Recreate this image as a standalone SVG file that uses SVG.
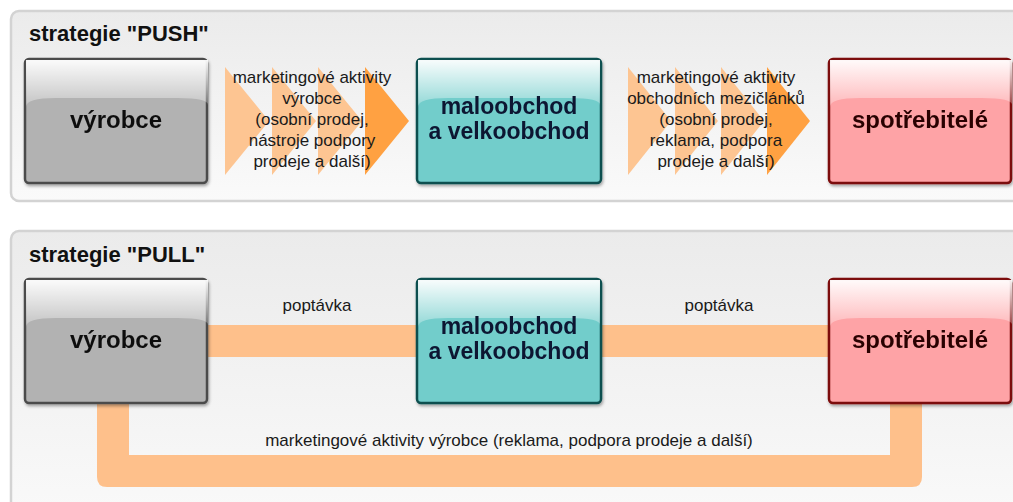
<svg xmlns="http://www.w3.org/2000/svg" width="1013" height="502" viewBox="0 0 1013 502">
<defs>
<linearGradient id="panelG" x1="0" y1="0" x2="0" y2="1">
<stop offset="0" stop-color="#ebebeb"/>
<stop offset="1" stop-color="#fafafa"/>
</linearGradient>
<linearGradient id="gloss" x1="0" y1="0" x2="0" y2="1">
<stop offset="0" stop-color="#ffffff" stop-opacity="0.95"/>
<stop offset="1" stop-color="#ffffff" stop-opacity="0.22"/>
</linearGradient>
<filter id="sh" x="-10%" y="-10%" width="125%" height="130%">
<feDropShadow dx="1" dy="2" stdDeviation="1.6" flood-color="#000" flood-opacity="0.35"/>
</filter>
<path id="gl" d="M0,0 H182 V45 Q182,38 152,38 H30 Q0,38 0,47 Z"/>
</defs>
<style>
.panel{fill:url(#panelG);stroke:#d3d3d3;stroke-width:2.5}
.title{font-family:"Liberation Sans",Arial,sans-serif;font-weight:bold;font-size:22px;fill:#111}
.box{stroke-width:2.5}
.gray{fill:#b2b2b2;stroke:#4b4b4b}
.teal{fill:#72cdcb;stroke:#0e5050}
.red{fill:#fea3a6;stroke:#7c0808}
.bt{font-family:"Liberation Sans",Arial,sans-serif;font-weight:bold;font-size:24px;text-anchor:middle}
.bt2{font-size:23px}
.lbl{font-family:"Liberation Sans",Arial,sans-serif;font-size:17px;text-anchor:middle;fill:#1a1a1a}
.lt{fill:#fdc592}
.dk{fill:#ffa142}
.band{fill:#fec08b}
</style>

<rect class="panel" x="11" y="11" width="1030" height="190" rx="8"/>
<rect class="panel" x="11" y="231" width="1030" height="300" rx="8"/>
<text class="title" x="29" y="41">strategie "PUSH"</text>
<text class="title" x="29" y="262">strategie "PULL"</text>

<g id="connectors">
<polygon class="lt" points="225,67 269,121 225,175"/>
<polygon class="lt" points="272,67 316,121 272,175"/>
<polygon class="lt" points="318,67 362,121 318,175"/>
<polygon class="dk" points="365,67 409,121 365,175"/>
<polygon class="lt" points="628,67 671,121 628,175"/>
<polygon class="lt" points="675,67 718,121 675,175"/>
<polygon class="lt" points="721,67 764,121 721,175"/>
<polygon class="dk" points="767,67 810,121 767,175"/>
<rect class="band" x="200" y="325" width="222" height="32"/>
<rect class="band" x="596" y="325" width="238" height="32"/>
<path class="band" d="M97,398 V477 Q97,487 107,487 H912 Q922,487 922,477 V398 H890 V455 H129 V398 Z"/>
</g>

<g id="push-vyrobce" filter="url(#sh)">
<rect class="box gray" x="25" y="59" width="182" height="124" rx="4"/>
<use href="#gl" x="26" y="60" fill="url(#gloss)"/>
<text class="bt" x="116" y="128" fill="#111">výrobce</text>
</g>
<g id="push-obchod" filter="url(#sh)">
<rect class="box teal" x="417" y="59" width="184" height="124" rx="4"/>
<use href="#gl" x="418" y="60" fill="url(#gloss)"/>
<text class="bt bt2" x="509" y="114" fill="#0b1733">maloobchod</text>
<text class="bt bt2" x="509" y="139" fill="#0b1733">a velkoobchod</text>
</g>
<g id="push-spotrebitele" filter="url(#sh)">
<rect class="box red" x="829" y="59" width="182" height="124" rx="4"/>
<use href="#gl" x="830" y="60" fill="url(#gloss)"/>
<text class="bt" x="920" y="128" fill="#2a0606">spotřebitelé</text>
</g>

<g id="pull-vyrobce" filter="url(#sh)">
<rect class="box gray" x="25" y="279" width="182" height="124" rx="4"/>
<use href="#gl" x="26" y="280" fill="url(#gloss)"/>
<text class="bt" x="116" y="348" fill="#111">výrobce</text>
</g>
<g id="pull-obchod" filter="url(#sh)">
<rect class="box teal" x="417" y="279" width="184" height="124" rx="4"/>
<use href="#gl" x="418" y="280" fill="url(#gloss)"/>
<text class="bt bt2" x="509" y="334" fill="#0b1733">maloobchod</text>
<text class="bt bt2" x="509" y="359" fill="#0b1733">a velkoobchod</text>
</g>
<g id="pull-spotrebitele" filter="url(#sh)">
<rect class="box red" x="829" y="279" width="182" height="124" rx="4"/>
<use href="#gl" x="830" y="280" fill="url(#gloss)"/>
<text class="bt" x="920" y="348" fill="#2a0606">spotřebitelé</text>
</g>

<g id="labels">
<text class="lbl" x="312" y="83">marketingové aktivity</text>
<text class="lbl" x="312" y="104">výrobce</text>
<text class="lbl" x="312" y="125">(osobní prodej,</text>
<text class="lbl" x="312" y="146">nástroje podpory</text>
<text class="lbl" x="312" y="167">prodeje a další)</text>
<text class="lbl" x="716" y="83">marketingové aktivity</text>
<text class="lbl" x="716" y="104">obchodních mezičlánků</text>
<text class="lbl" x="716" y="125">(osobní prodej,</text>
<text class="lbl" x="716" y="146">reklama, podpora</text>
<text class="lbl" x="716" y="167">prodeje a další)</text>
<text class="lbl" x="317" y="311">poptávka</text>
<text class="lbl" x="719" y="311">poptávka</text>
<text class="lbl" x="509" y="446">marketingové aktivity výrobce (reklama, podpora prodeje a další)</text>
</g>
</svg>
